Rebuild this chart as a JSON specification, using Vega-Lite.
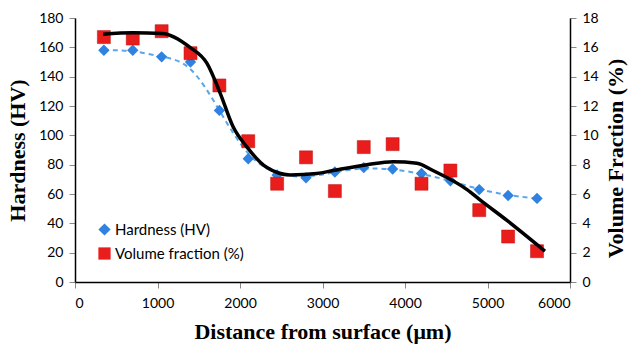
{
  "$schema": "https://vega.github.io/schema/vega-lite/v6.json",
  "width": 495,
  "height": 264,
  "autosize": {"type": "none"},
  "padding": {"left": 75, "top": 18, "right": 58, "bottom": 68},
  "background": "white",
  "config": {
    "view": {"stroke": null},
    "axis": {
      "grid": false,
      "domainColor": "#000000",
      "domainWidth": 1.5,
      "tickColor": "#888888",
      "tickSize": 6,
      "labelFont": "Lato",
      "labelFontSize": 14,
      "labelColor": "#000000",
      "titleFont": "Liberation Serif",
      "titleFontWeight": "bold",
      "titleFontSize": 22,
      "titleColor": "#000000"
    }
  },
  "datasets": {
    "hard": [
      {"d": 350, "v": 158, "series": "Hardness (HV)"},
      {"d": 700, "v": 158, "series": "Hardness (HV)"},
      {"d": 1050, "v": 153.5, "series": "Hardness (HV)"},
      {"d": 1400, "v": 150, "series": "Hardness (HV)"},
      {"d": 1750, "v": 117, "series": "Hardness (HV)"},
      {"d": 2100, "v": 84, "series": "Hardness (HV)"},
      {"d": 2450, "v": 73, "series": "Hardness (HV)"},
      {"d": 2800, "v": 71, "series": "Hardness (HV)"},
      {"d": 3150, "v": 75, "series": "Hardness (HV)"},
      {"d": 3500, "v": 78, "series": "Hardness (HV)"},
      {"d": 3850, "v": 77, "series": "Hardness (HV)"},
      {"d": 4200, "v": 74, "series": "Hardness (HV)"},
      {"d": 4550, "v": 69, "series": "Hardness (HV)"},
      {"d": 4900, "v": 63, "series": "Hardness (HV)"},
      {"d": 5250, "v": 59, "series": "Hardness (HV)"},
      {"d": 5600, "v": 57, "series": "Hardness (HV)"}
    ],
    "vol": [
      {"d": 350, "v": 16.7, "series": "Volume fraction (%)"},
      {"d": 700, "v": 16.6, "series": "Volume fraction (%)"},
      {"d": 1050, "v": 17.1, "series": "Volume fraction (%)"},
      {"d": 1400, "v": 15.6, "series": "Volume fraction (%)"},
      {"d": 1750, "v": 13.4, "series": "Volume fraction (%)"},
      {"d": 2100, "v": 9.6, "series": "Volume fraction (%)"},
      {"d": 2450, "v": 6.7, "series": "Volume fraction (%)"},
      {"d": 2800, "v": 8.5, "series": "Volume fraction (%)"},
      {"d": 3150, "v": 6.2, "series": "Volume fraction (%)"},
      {"d": 3500, "v": 9.2, "series": "Volume fraction (%)"},
      {"d": 3850, "v": 9.4, "series": "Volume fraction (%)"},
      {"d": 4200, "v": 6.7, "series": "Volume fraction (%)"},
      {"d": 4550, "v": 7.6, "series": "Volume fraction (%)"},
      {"d": 4900, "v": 4.9, "series": "Volume fraction (%)"},
      {"d": 5250, "v": 3.1, "series": "Volume fraction (%)"},
      {"d": 5600, "v": 2.1, "series": "Volume fraction (%)"}
    ],
    "trend": [
      {"d": 340, "v": 16.9},
      {"d": 703, "v": 17.0},
      {"d": 1055, "v": 16.95},
      {"d": 1394, "v": 16.0},
      {"d": 1600, "v": 14.9},
      {"d": 1758, "v": 12.9},
      {"d": 1915, "v": 10.6},
      {"d": 2085, "v": 9.2},
      {"d": 2327, "v": 7.8},
      {"d": 2606, "v": 7.3},
      {"d": 2933, "v": 7.4},
      {"d": 3127, "v": 7.6},
      {"d": 3539, "v": 8.0},
      {"d": 3855, "v": 8.2},
      {"d": 4145, "v": 8.1},
      {"d": 4339, "v": 7.6},
      {"d": 4752, "v": 6.3},
      {"d": 4909, "v": 5.6},
      {"d": 5236, "v": 4.2},
      {"d": 5697, "v": 2.1}
    ]
  },
  "layer": [
    {
      "layer": [
        {
          "data": {"name": "hard"},
          "mark": {"type": "line", "interpolate": "basis", "color": "#5aa6ea", "strokeWidth": 2, "strokeDash": [5, 4]},
          "encoding": {
            "x": {"field": "d", "type": "quantitative"},
            "y": {"field": "v", "type": "quantitative"}
          }
        },
        {
          "data": {"name": "hard"},
          "mark": {"type": "point", "filled": true, "size": 130, "opacity": 1},
          "encoding": {
            "x": {"field": "d", "type": "quantitative"},
            "y": {"field": "v", "type": "quantitative"},
            "color": {"field": "series", "type": "nominal", "scale": {"domain": ["Hardness (HV)", "Volume fraction (%)"], "range": ["#2f82e0", "#ea1d1d"]}},
            "shape": {"field": "series", "type": "nominal", "scale": {"domain": ["Hardness (HV)", "Volume fraction (%)"], "range": ["diamond", "square"]}}
          }
        }
      ],
      "encoding": {
        "x": {"field": "d", "type": "quantitative", "scale": {"domain": [0, 6000], "nice": false}, "axis": {"title": "Distance from surface (μm)", "format": "d", "values": [0, 1000, 2000, 3000, 4000, 5000, 6000], "labelPadding": 8, "titlePadding": 11}},
        "y": {"field": "v", "type": "quantitative", "scale": {"domain": [0, 180], "nice": false}, "axis": {"title": "Hardness (HV)", "orient": "left", "values": [0, 20, 40, 60, 80, 100, 120, 140, 160, 180], "labelPadding": 6, "titlePadding": 9}}
      }
    },
    {
      "layer": [
        {
          "data": {"name": "vol"},
          "mark": {"type": "point", "filled": true, "size": 170, "opacity": 1, "stroke": "#c01010", "strokeWidth": 0.5},
          "encoding": {
            "x": {"field": "d", "type": "quantitative"},
            "y": {"field": "v", "type": "quantitative"},
            "color": {"field": "series", "type": "nominal", "scale": {"domain": ["Hardness (HV)", "Volume fraction (%)"], "range": ["#2f82e0", "#ea1d1d"]}, "legend": {"orient": "none", "legendX": 22, "legendY": 204, "title": null, "labelFont": "Lato", "labelFontSize": 15, "labelColor": "#000000", "symbolSize": 150, "rowPadding": 8, "padding": 0, "symbolStrokeWidth": 0, "labelOffset": 3}},
            "shape": {"field": "series", "type": "nominal", "scale": {"domain": ["Hardness (HV)", "Volume fraction (%)"], "range": ["diamond", "square"]}}
          }
        },
        {
          "data": {"name": "trend"},
          "mark": {"type": "line", "interpolate": "monotone", "color": "#000000", "strokeWidth": 3.5},
          "encoding": {
            "x": {"field": "d", "type": "quantitative"},
            "y": {"field": "v", "type": "quantitative"}
          }
        }
      ],
      "encoding": {
        "x": {"field": "d", "type": "quantitative", "scale": {"domain": [0, 6000], "nice": false}},
        "y": {"field": "v", "type": "quantitative", "scale": {"domain": [0, 18], "nice": false}, "axis": {"title": "Volume Fraction (%)", "orient": "right", "titleAngle": 270, "titleX": 45, "titleY": 140, "titleAlign": "center", "titleBaseline": "middle", "values": [0, 2, 4, 6, 8, 10, 12, 14, 16, 18], "labelPadding": 6}}
      }
    }
  ],
  "resolve": {"scale": {"y": "independent"}}
}
